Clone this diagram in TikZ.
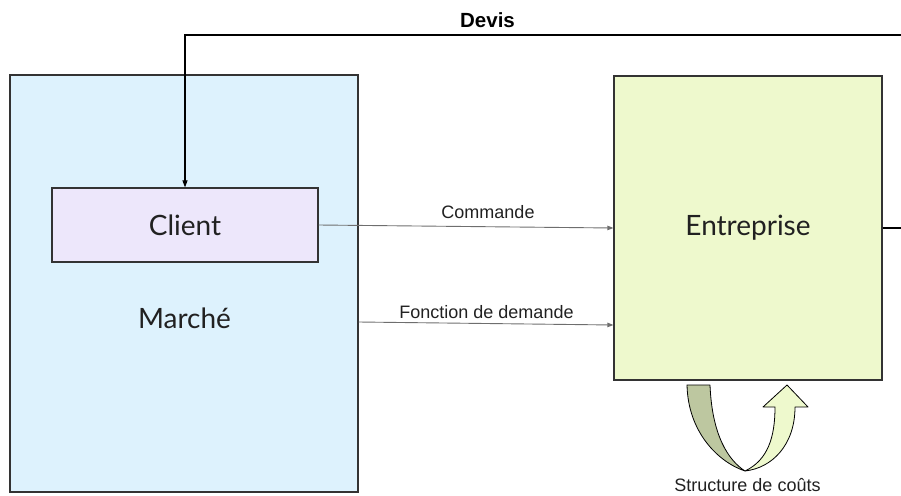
\documentclass[tikz,border=0pt]{standalone}
\usepackage{fontspec}
\setmainfont{Lato}
\newfontfamily\labfont{Liberation Sans}
\usetikzlibrary{arrows.meta}
\definecolor{marchefill}{RGB}{221,242,253}
\definecolor{clientfill}{RGB}{237,231,251}
\definecolor{entfill}{RGB}{238,249,205}
\definecolor{darkband}{RGB}{189,199,160}
\definecolor{boxline}{RGB}{51,51,51}
\definecolor{flowgray}{RGB}{110,110,110}
\definecolor{textcol}{RGB}{33,33,33}
\tikzset{
  box/.style={draw=boxline, line width=1.2pt, rectangle, inner sep=0pt, text=textcol, font=\fontsize{28}{32}\selectfont},
  flow/.style={draw=flowgray, line width=0.9pt, -{Triangle[length=6pt,width=4.5pt]}},
  devisline/.style={draw=black, line width=1.1pt, -{Triangle[length=7pt,width=5pt]}},
  lab/.style={font=\labfont\fontsize{18}{20}\selectfont, text=textcol, anchor=base, inner sep=0pt},
  boxlab/.style={font=\fontsize{28}{32}\selectfont, text=textcol, anchor=base, inner sep=0pt},
  band/.style={draw=black, line width=0.8pt, line join=round}
}
\begin{document}
\begin{tikzpicture}[x=1pt,y=-1pt]
\useasboundingbox (0,0) rectangle (901,495);
% boxes
\node[box, fill=marchefill, minimum width=348pt, minimum height=417pt] (marche) at (184,283.5) {};
\node[boxlab] (marchelab) at (184.5,328) {Marché};
\node[box, fill=clientfill, minimum width=266pt, minimum height=74pt] (client) at (185,225) {Client};
\node[box, fill=entfill, minimum width=268pt, minimum height=304pt] (ent) at (748,228) {Entreprise};
% flows
\draw[flow] (client.east) -- (ent.west);
\node[lab] (commande) at (488,218) {Commande};
\draw[flow] (marche.east |- 0,322) -- (ent.west |- 0,325);
\node[lab] (fonction) at (486.5,318) {Fonction de demande};
% devis loop
\coordinate (loop) at (940,35);
\draw[devisline] (ent.east) -| (loop) -| (client.north);
\node[lab, font=\labfont\bfseries\fontsize{20.5}{22}\selectfont, text=black] (devis) at (487.5,27.5) {Devis};
% U-turn arrow
\path[band, fill=darkband] (687,385) -- (710,385)
  .. controls (712,435) and (728,460) .. (745,471)
  .. controls (718,462) and (688,432) .. (687,385) -- cycle;
\path[band, fill=entfill] (745,471)
  .. controls (768,460) and (775,437) .. (775,407)
  -- (763,407) -- (787,385) -- (808,407) -- (795,407)
  .. controls (795,445) and (772,468) .. (745,471) -- cycle;
\node[lab] (couts) at (747.5,491) {Structure de coûts};
\end{tikzpicture}
\end{document}
